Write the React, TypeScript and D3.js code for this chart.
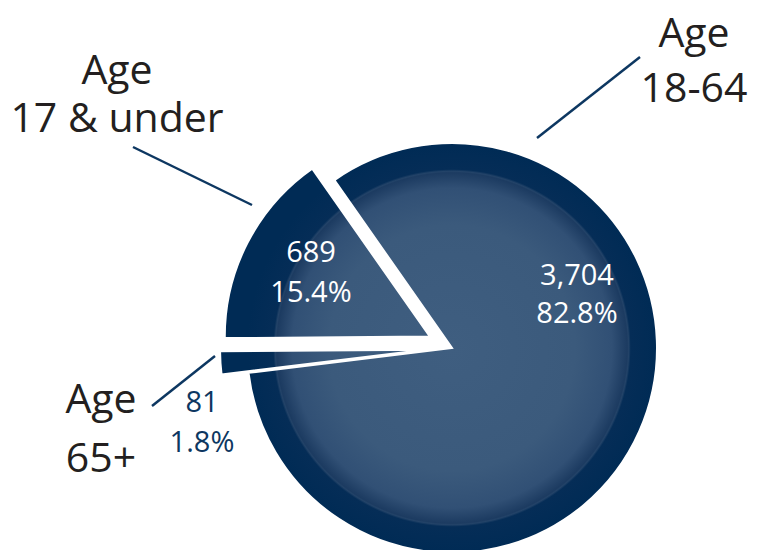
import React from "react";
import * as d3 from "d3";

const categories = ["Age 18-64", "Age 65+", "Age 17 & under"];
const counts = [3704, 81, 689];
const percents = ["82.8%", "1.8%", "15.4%"];
const nameLines = [["Age", "18-64"], ["Age", "65+"], ["Age", "17 & under"]];

const W = 767;
const H = 550;
const CX = 452;
const CY = 348;
const R = 205;
const START = (-35 * Math.PI) / 180;
const EXPLODE = [0, 27, 25];

// layout of annotations (absolute page coords)
const valuePos = [
  { x: 577, y1: 285, y2: 323, color: "#ffffff" },
  { x: 202, y1: 412, y2: 452, color: "#0d3761" },
  { x: 311, y1: 262, y2: 302, color: "#ffffff" },
];
const namePos = [
  { x: 694, y1: 47, y2: 102 },
  { x: 101, y1: 413, y2: 472 },
  { x: 117, y1: 84, y2: 132 },
];
const leaders = [
  [640, 57, 537, 138],
  [152, 406, 215, 356],
  [133, 147, 252, 205],
];

export default function App() {
  const data = categories.map((c, i) => ({ c, v: counts[i], i }));
  const pie = d3
    .pie<any>()
    .sort(null)
    .value((d: any) => d.v)
    .startAngle(START)
    .endAngle(START + 2 * Math.PI);
  const arcs = pie(data);
  const arcGen = d3.arc<any>().innerRadius(0).outerRadius(R);
  const font = "'Open Sans', 'Noto Sans', sans-serif";

  const offsets = arcs.map((a, i) => {
    const mid = (a.startAngle + a.endAngle) / 2;
    return [Math.sin(mid) * EXPLODE[i], -Math.cos(mid) * EXPLODE[i]];
  });

  return (
    <svg
      width={W}
      height={H}
      style={{ position: "absolute", left: 0, top: 0, display: "block" }}
    >
      <defs>
        {offsets.map((o, i) => (
          <radialGradient
            key={i}
            id={`grad${i}`}
            gradientUnits="userSpaceOnUse"
            cx={-o[0]}
            cy={-o[1]}
            r={R}
          >
            <stop offset="0" stopColor="#3f5e80" />
            <stop offset="0.6" stopColor="#3b5a7c" />
            <stop offset="0.78" stopColor="#315075" />
            <stop offset="0.855" stopColor="#1c3b61" />
            <stop offset="0.862" stopColor="#234368" />
            <stop offset="0.872" stopColor="#052d57" />
            <stop offset="1" stopColor="#002b55" />
          </radialGradient>
        ))}
      </defs>
      <rect width={W} height={H} fill="#ffffff" />
      <g transform={`translate(${CX},${CY})`}>
        {arcs.map((a, i) => (
          <g key={i} transform={`translate(${offsets[i][0]},${offsets[i][1]})`}>
            <path
              d={arcGen(a) as string}
              fill={`url(#grad${i})`}
              stroke="#ffffff"
              strokeWidth={2}
              strokeLinejoin="miter"
            />
          </g>
        ))}
      </g>
      {leaders.map((l, i) => (
        <line
          key={i}
          x1={l[0]}
          y1={l[1]}
          x2={l[2]}
          y2={l[3]}
          stroke="#0d3761"
          strokeWidth={2.5}
        />
      ))}
      {valuePos.map((p, i) => (
        <g key={i} fontFamily={font} fontSize={29} fill={p.color} textAnchor="middle">
          <text x={p.x} y={p.y1}>
            {d3.format(",")(counts[i])}
          </text>
          <text x={p.x} y={p.y2}>
            {percents[i]}
          </text>
        </g>
      ))}
      {namePos.map((p, i) => (
        <g key={i} fontFamily={font} fontSize={41} fill="#231f20" textAnchor="middle">
          <text x={p.x} y={p.y1}>
            {nameLines[i][0]}
          </text>
          <text x={p.x} y={p.y2}>
            {nameLines[i][1]}
          </text>
        </g>
      ))}
    </svg>
  );
}
